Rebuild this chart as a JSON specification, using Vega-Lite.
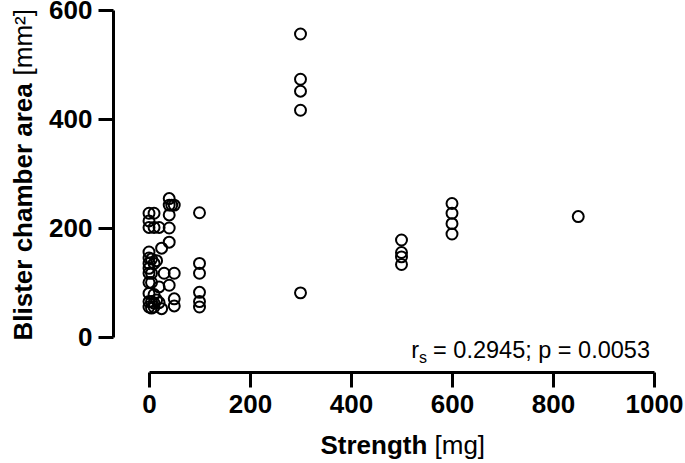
{
  "$schema": "https://vega.github.io/schema/vega-lite/v6.json",
  "width": 505,
  "height": 327,
  "autosize": "none",
  "padding": {"left": 149, "top": 10, "right": 31, "bottom": 126},
  "background": "white",
  "config": {"view": {"stroke": null}, "font": "Liberation Sans"},
  "data": {
    "values": [
      {"strength": 0, "area": 227}, {"strength": 0, "area": 213}, {"strength": 0, "area": 201},
      {"strength": 0, "area": 156}, {"strength": 0, "area": 145}, {"strength": 0, "area": 135},
      {"strength": 0, "area": 126}, {"strength": 0, "area": 117}, {"strength": 0, "area": 100},
      {"strength": 0, "area": 80}, {"strength": 0, "area": 65}, {"strength": 0, "area": 55},
      {"strength": 5, "area": 143}, {"strength": 5, "area": 117}, {"strength": 5, "area": 100},
      {"strength": 5, "area": 65}, {"strength": 5, "area": 53},
      {"strength": 10, "area": 227}, {"strength": 10, "area": 201}, {"strength": 10, "area": 135},
      {"strength": 10, "area": 78}, {"strength": 10, "area": 62}, {"strength": 10, "area": 55},
      {"strength": 15, "area": 140}, {"strength": 15, "area": 68},
      {"strength": 20, "area": 201}, {"strength": 20, "area": 92}, {"strength": 20, "area": 63},
      {"strength": 25, "area": 163}, {"strength": 25, "area": 52},
      {"strength": 30, "area": 117},
      {"strength": 40, "area": 254}, {"strength": 40, "area": 242}, {"strength": 40, "area": 224},
      {"strength": 40, "area": 200}, {"strength": 40, "area": 174}, {"strength": 40, "area": 95},
      {"strength": 45, "area": 242},
      {"strength": 50, "area": 242}, {"strength": 50, "area": 117}, {"strength": 50, "area": 70},
      {"strength": 50, "area": 57},
      {"strength": 100, "area": 228}, {"strength": 100, "area": 135}, {"strength": 100, "area": 117},
      {"strength": 100, "area": 82}, {"strength": 100, "area": 65}, {"strength": 100, "area": 55},
      {"strength": 300, "area": 556}, {"strength": 300, "area": 473}, {"strength": 300, "area": 451},
      {"strength": 300, "area": 416}, {"strength": 300, "area": 81},
      {"strength": 500, "area": 178}, {"strength": 500, "area": 155}, {"strength": 500, "area": 147},
      {"strength": 500, "area": 133},
      {"strength": 600, "area": 245}, {"strength": 600, "area": 227}, {"strength": 600, "area": 208},
      {"strength": 600, "area": 189},
      {"strength": 850, "area": 221}
    ]
  },
  "layer": [
    {
      "mark": {"type": "point", "shape": "circle", "filled": false, "color": "black", "strokeWidth": 2, "size": 120, "opacity": 1},
      "encoding": {
        "x": {
          "field": "strength", "type": "quantitative",
          "scale": {"domain": [0, 1000], "nice": false, "zero": false},
          "axis": {
            "orient": "bottom", "offset": 35, "values": [0, 200, 400, 600, 800, 1000], "format": "d", "grid": false,
            "domainWidth": 3, "domainColor": "black", "tickColor": "black", "tickWidth": 3, "tickSize": 15,
            "labelFont": "Liberation Sans", "labelFontSize": 26, "labelFontWeight": "bold", "labelColor": "black",
            "labelPadding": 4, "labelFlush": false,
            "title": "Strength", "titleFont": "Liberation Sans", "titleFontSize": 26, "titleFontWeight": "bold",
            "titleColor": "black", "titleAlign": "left", "titleBaseline": "alphabetic", "titleX": 171, "titleY": 81
          }
        },
        "y": {
          "field": "area", "type": "quantitative",
          "scale": {"domain": [0, 600], "nice": false, "zero": false},
          "axis": {
            "orient": "left", "offset": 36, "values": [0, 200, 400, 600], "format": "d", "grid": false,
            "domainWidth": 3, "domainColor": "black", "tickColor": "black", "tickWidth": 3, "tickSize": 15,
            "labelFont": "Liberation Sans", "labelFontSize": 26, "labelFontWeight": "bold", "labelColor": "black",
            "labelPadding": 6, "labelFlush": false,
            "title": "Blister chamber area", "titleFont": "Liberation Sans", "titleFontSize": 26, "titleFontWeight": "bold",
            "titleColor": "black", "titleAngle": -90, "titleAlign": "left", "titleBaseline": "alphabetic",
            "titleX": -82, "titleY": 330
          }
        }
      }
    },
    {
      "mark": {"type": "point", "opacity": 0},
      "encoding": {
        "x": {
          "field": "strength", "type": "quantitative",
          "axis": {
            "orient": "bottom", "offset": 35, "labels": false, "ticks": false, "domain": false, "grid": false,
            "title": "[mg]", "titleFont": "Liberation Sans", "titleFontSize": 26, "titleFontWeight": "normal",
            "titleColor": "black", "titleAlign": "left", "titleBaseline": "alphabetic", "titleX": 285, "titleY": 81
          }
        },
        "y": {
          "field": "area", "type": "quantitative",
          "axis": {
            "orient": "left", "offset": 36, "labels": false, "ticks": false, "domain": false, "grid": false,
            "title": "[mm²]", "titleFont": "Liberation Sans", "titleFontSize": 26, "titleFontWeight": "normal",
            "titleColor": "black", "titleAngle": -90, "titleAlign": "left", "titleBaseline": "alphabetic",
            "titleX": -82, "titleY": 65
          }
        }
      }
    },
    {
      "data": {"values": [{"label": "= 0.2945; p = 0.0053"}]},
      "mark": {"type": "text", "align": "right", "baseline": "alphabetic", "fontSize": 23.5, "font": "Liberation Sans", "color": "black", "dx": -4},
      "encoding": {
        "x": {"datum": 1000, "type": "quantitative", "axis": null},
        "y": {"datum": -38.5, "type": "quantitative", "axis": null},
        "text": {"field": "label"}
      }
    },
    {
      "data": {"values": [{"label": "s"}]},
      "mark": {"type": "text", "align": "right", "baseline": "alphabetic", "fontSize": 16, "font": "Liberation Sans", "color": "black", "dx": -227, "dy": 5},
      "encoding": {
        "x": {"datum": 1000, "type": "quantitative", "axis": null},
        "y": {"datum": -38.5, "type": "quantitative", "axis": null},
        "text": {"field": "label"}
      }
    },
    {
      "data": {"values": [{"label": "r"}]},
      "mark": {"type": "text", "align": "right", "baseline": "alphabetic", "fontSize": 23.5, "font": "Liberation Sans", "color": "black", "dx": -235},
      "encoding": {
        "x": {"datum": 1000, "type": "quantitative", "axis": null},
        "y": {"datum": -38.5, "type": "quantitative", "axis": null},
        "text": {"field": "label"}
      }
    }
  ],
  "resolve": {"axis": {"x": "independent", "y": "independent"}}
}
